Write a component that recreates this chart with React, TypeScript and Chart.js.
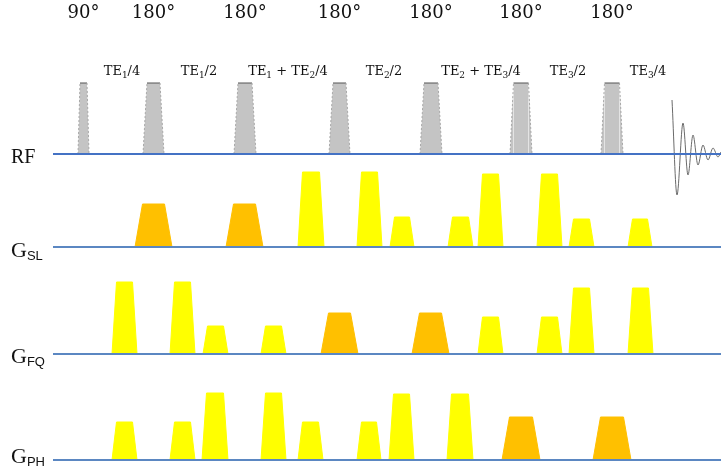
import { useEffect, useRef } from "react";
import { Chart, registerables } from "chart.js";

Chart.register(...registerables);

// ---------- data (time in sequence units, amplitude in drawing units) ----------
const flipAngles = ["90°", "180°", "180°", "180°", "180°", "180°", "180°"];
const rfOn = [78, 143, 234, 329, 420, 510, 601];
const rfOff = [89, 164, 256, 350, 442, 532, 623];
const rfRamp = [2, 4, 4, 4, 4, 3.5, 3.5];
const rfAmp = [71, 71, 71, 71, 71, 71, 71];

const teLabels = ["TE_1/4", "TE_1/2", "TE_1 + TE_2/4", "TE_2/2", "TE_2 + TE_3/4", "TE_3/2", "TE_3/4"];
const teAt = [122, 199, 288, 384, 481, 568, 648];

const slOn = [135, 226, 298, 357, 390, 448, 478, 537, 569, 628];
const slOff = [172, 263, 324, 382, 414, 473, 503, 562, 594, 652];
const slAmp = [43, 43, 75, 75, 30, 30, 73, 73, 28, 28];
const slCrusher = [true, true, false, false, false, false, false, false, false, false];

const fqOn = [112, 170, 203, 261, 321, 412, 478, 537, 569, 628];
const fqOff = [137, 195, 228, 286, 358, 449, 503, 562, 594, 653];
const fqAmp = [72, 72, 28, 28, 41, 41, 37, 37, 66, 66];
const fqCrusher = [false, false, false, false, true, true, false, false, false, false];

const phOn = [112, 170, 202, 261, 298, 357, 389, 447, 502, 593];
const phOff = [137, 195, 228, 286, 323, 381, 414, 473, 540, 631];
const phAmp = [38, 38, 67, 67, 38, 38, 66, 66, 43, 43];
const phCrusher = [false, false, false, false, false, false, false, false, true, true];

const fidT = [672, 677, 683, 688, 693, 698, 703, 708, 713, 718, 721];
const fidAmp = [54, -41, 31, -21, 19, -11, 9, -6, 6, -3, 2];

const channelNames = ["RF", "G", "G", "G"];
const channelSubs = ["", "SL", "FQ", "PH"];

// ---------- layout / style ----------
const W = 721;
const H = 473;
const channelBase = [154, 247, 354, 460];
const channelLabelBaseline = [163, 257, 363, 463];
const channelLabelSize = [20, 22, 22, 22];
const lineStart = 53;
const FLIP_Y = 18;
const TE_Y = 75;
const YELLOW = "#FFFF00";
const ORANGE = "#FFC000";
const GRAY = "#C4C4C4";

type Pt = { x: number; y: number };

function trapezoid(on: number, off: number, ramp: number, amp: number, base: number): Pt[] {
  return [
    { x: on, y: base },
    { x: on + ramp, y: base - amp },
    { x: off - ramp, y: base - amp },
    { x: off, y: base },
  ];
}

function gradDatasets(on: number[], off: number[], amp: number[], crusher: boolean[], base: number) {
  return on.map((o, i) => {
    const ramp = crusher[i] ? 7.5 : 4.5;
    const col = crusher[i] ? ORANGE : YELLOW;
    return {
      data: trapezoid(o, off[i], ramp, amp[i], base),
      borderColor: col,
      backgroundColor: col,
      borderWidth: 1,
      fill: { value: base },
      pointRadius: 0,
      tension: 0,
      order: 2,
    };
  });
}

function drawRich(ctx: CanvasRenderingContext2D, label: string, cx: number, y: number) {
  const segs: { t: string; sub: boolean }[] = [];
  let i = 0;
  let buf = "";
  while (i < label.length) {
    if (label[i] === "_") {
      if (buf) segs.push({ t: buf, sub: false });
      buf = "";
      segs.push({ t: label[i + 1], sub: true });
      i += 2;
    } else {
      buf += label[i];
      i++;
    }
  }
  if (buf) segs.push({ t: buf, sub: false });
  const mainFont = '13px "DejaVu Serif"';
  const subFont = '9px "DejaVu Serif"';
  let total = 0;
  segs.forEach((s) => {
    ctx.font = s.sub ? subFont : mainFont;
    total += ctx.measureText(s.t).width;
  });
  let x = cx - total / 2;
  ctx.textAlign = "left";
  segs.forEach((s) => {
    ctx.font = s.sub ? subFont : mainFont;
    ctx.fillText(s.t, x, s.sub ? y + 3 : y);
    x += ctx.measureText(s.t).width;
  });
}

const textPlugin = {
  id: "sequenceText",
  afterDatasetsDraw(chart: any) {
    const { ctx } = chart;
    const xs = chart.scales.x;
    const ys = chart.scales.y;
    ctx.save();
    ctx.fillStyle = "#111";
    ctx.textBaseline = "alphabetic";

    ctx.font = '18px "DejaVu Serif"';
    ctx.textAlign = "center";
    flipAngles.forEach((t, i) => {
      ctx.fillText(t, xs.getPixelForValue((rfOn[i] + rfOff[i]) / 2), ys.getPixelForValue(FLIP_Y));
    });

    teLabels.forEach((t, i) => {
      drawRich(ctx, t, xs.getPixelForValue(teAt[i]), ys.getPixelForValue(TE_Y));
    });

    channelNames.forEach((n, i) => {
      const by = ys.getPixelForValue(channelLabelBaseline[i]);
      ctx.textAlign = "left";
      ctx.font = `${channelLabelSize[i]}px "Liberation Serif"`;
      const x0 = xs.getPixelForValue(11);
      ctx.fillText(n, x0, by);
      const w = ctx.measureText(n).width;
      if (channelSubs[i]) {
        ctx.font = '13px "Liberation Sans"';
        ctx.fillText(channelSubs[i], x0 + w, by + 3);
      }
    });
    ctx.restore();
  },
};

export default function App() {
  const ref = useRef<HTMLCanvasElement | null>(null);

  useEffect(() => {
    if (!ref.current) return;

    const rfSets = rfOn.map((o, i) => ({
      data: trapezoid(o, rfOff[i], rfRamp[i], rfAmp[i], channelBase[0]),
      backgroundColor: GRAY,
      borderColor: "#999",
      borderWidth: 1,
      fill: { value: channelBase[0] },
      pointRadius: 0,
      tension: 0,
      order: 2,
      segment: {
        borderColor: (c: any) => (c.p0DataIndex === 1 ? "#555" : "#a8a8a8"),
        borderDash: (c: any) => (c.p0DataIndex === 1 ? [] : [2, 2]),
      },
    }));

    const baseLines = channelBase.map((b, i) => ({
      data: [
        { x: lineStart, y: b },
        { x: W, y: b },
      ],
      borderColor: i === 0 ? "#4472C4" : "#5B87C2",
      borderWidth: 2,
      fill: false,
      pointRadius: 0,
      order: 0,
    }));

    const fid = {
      data: fidT.map((t, i) => ({ x: t, y: channelBase[0] - fidAmp[i] })),
      borderColor: "#6a6a6a",
      borderWidth: 1,
      fill: false,
      pointRadius: 0,
      cubicInterpolationMode: "monotone",
      order: 1,
    };

    const chart = new Chart(ref.current, {
      type: "line",
      data: {
        datasets: [
          ...baseLines,
          fid,
          ...rfSets,
          ...gradDatasets(slOn, slOff, slAmp, slCrusher, channelBase[1]),
          ...gradDatasets(fqOn, fqOff, fqAmp, fqCrusher, channelBase[2]),
          ...gradDatasets(phOn, phOff, phAmp, phCrusher, channelBase[3]),
        ] as any,
      },
      options: {
        animation: false,
        responsive: true,
        maintainAspectRatio: false,
        events: [],
        layout: { padding: 0 },
        plugins: { legend: { display: false }, tooltip: { enabled: false } },
        scales: {
          x: { type: "linear", min: 0, max: W, display: false },
          y: { type: "linear", min: 0, max: H, reverse: true, display: false },
        },
      },
      plugins: [textPlugin],
    });
    return () => chart.destroy();
  }, []);

  return (
    <div style={{ position: "fixed", left: 0, top: 0, width: W, height: H, background: "#fff" }}>
      <canvas ref={ref} />
    </div>
  );
}
